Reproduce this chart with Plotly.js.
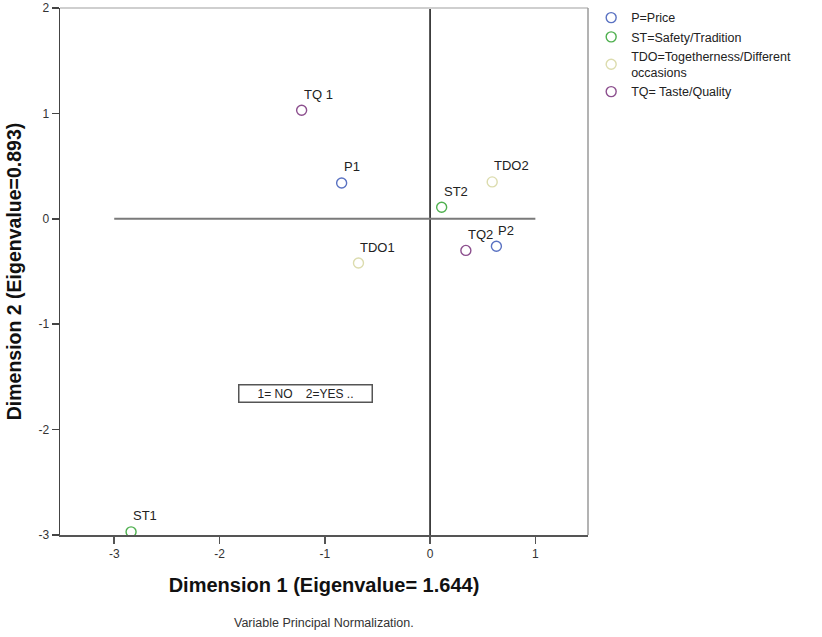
<!DOCTYPE html>
<html>
<head>
<meta charset="utf-8">
<script src="https://cdn.plot.ly/plotly-3.0.1.min.js"></script>
<style>html,body{margin:0;padding:0;background:#fff;}#chart{width:822px;height:637px;}</style>
</head>
<body>
<div id="chart"></div>
<script>
// Data
const groups = ['P=Price', 'ST=Safety/Tradition', 'TDO=Togetherness/Different<br>occasions', 'TQ= Taste/Quality'];
const pLabels = ['P1', 'P2'];
const pX = [-0.84, 0.63];
const pY = [0.34, -0.26];
const stLabels = ['ST1', 'ST2'];
const stX = [-2.84, 0.11];
const stY = [-2.97, 0.11];
const tdoLabels = ['TDO1', 'TDO2'];
const tdoX = [-0.68, 0.59];
const tdoY = [-0.42, 0.35];
const tqLabels = ['TQ 1', 'TQ2'];
const tqX = [-1.22, 0.34];
const tqY = [1.03, -0.30];
const xTicks = [-3, -2, -1, 0, 1];
const yTicks = [-3, -2, -1, 0, 1, 2];
const noteText = '1= NO&nbsp;&nbsp;&nbsp;&nbsp;2=YES ..';

const colors = ['#5a72c2', '#4fb04f', '#dcdcae', '#8c4f8e'];
const FONT = 'Arial, "Liberation Sans", sans-serif';

const series = [
  {name: groups[0], x: pX, y: pY, labels: pLabels},
  {name: groups[1], x: stX, y: stY, labels: stLabels},
  {name: groups[2], x: tdoX, y: tdoY, labels: tdoLabels},
  {name: groups[3], x: tqX, y: tqY, labels: tqLabels}
];

const traces = series.map((s, i) => ({
  type: 'scatter', mode: 'markers', name: s.name, x: s.x, y: s.y,
  marker: {symbol: 'circle-open', size: 10, color: colors[i], line: {width: 1.4, color: colors[i]}},
  hoverinfo: 'skip'
}));

const annotations = [];
series.forEach(s => {
  s.x.forEach((xv, j) => {
    annotations.push({x: xv, y: s.y[j], xref: 'x', yref: 'y', text: s.labels[j], showarrow: false,
      xanchor: 'left', yanchor: 'middle', xshift: 0, yshift: 16,
      font: {family: FONT, size: 13, color: '#222'}});
  });
});
annotations.push({x: -1.18, y: -1.66, xref: 'x', yref: 'y', text: noteText, showarrow: false,
  font: {family: FONT, size: 12, color: '#222'}, bgcolor: '#fff', bordercolor: '#555', borderwidth: 1.5,
  borderpad: 1, width: 130, align: 'center'});
annotations.push({x: 0.5, y: -0.167, xref: 'paper', yref: 'paper', text: 'Variable Principal Normalization.',
  showarrow: false, yanchor: 'middle', font: {family: FONT, size: 12.5, color: '#333'}});

const layout = {
  width: 822, height: 637,
  margin: {l: 60, r: 234, t: 8, b: 102, autoexpand: false},
  paper_bgcolor: '#fff', plot_bgcolor: '#fff',
  font: {family: FONT, size: 12, color: '#333'},
  showlegend: true,
  legend: {x: 1.006, y: 1.0095, xanchor: 'left', yanchor: 'top', bgcolor: 'rgba(0,0,0,0)', borderwidth: 0,
    font: {family: FONT, size: 12.5, color: '#222'}, itemwidth: 30, tracegroupgap: 0},
  xaxis: {range: [-3.515, 1.5], tickvals: xTicks, ticktext: xTicks.map(String), showgrid: false, zeroline: false,
    showline: true, linecolor: '#555', linewidth: 1.5, ticks: 'outside', ticklen: 7, tickwidth: 1.5, tickcolor: '#555',
    tickfont: {family: FONT, size: 12, color: '#333'},
    title: {text: '<b>Dimension 1 (Eigenvalue= 1.644)</b>', font: {family: FONT, size: 20, color: '#111'}, standoff: 18}},
  yaxis: {range: [-3, 2], tickvals: yTicks, ticktext: yTicks.map(String), showgrid: false, zeroline: false,
    showline: true, linecolor: '#444', linewidth: 1.5, ticks: 'outside', ticklen: 7, tickwidth: 1.5, tickcolor: '#444',
    tickfont: {family: FONT, size: 12, color: '#333'},
    title: {text: '<b>Dimension 2 (Eigenvalue=0.893)</b>', font: {family: FONT, size: 19.5, color: '#111'}, standoff: 11}},
  shapes: [
    {type: 'line', xref: 'paper', yref: 'paper', x0: 0, x1: 1, y0: 1, y1: 1, line: {color: '#cfcfcf', width: 2}},
    {type: 'line', xref: 'paper', yref: 'paper', x0: 1, x1: 1, y0: 0, y1: 1, line: {color: '#9a9a9a', width: 1.5}},
    {type: 'line', xref: 'x', yref: 'y', x0: -3, x1: 1, y0: 0, y1: 0, line: {color: '#7a7a7a', width: 2}, layer: 'below'},
    {type: 'line', xref: 'x', yref: 'paper', x0: 0, x1: 0, y0: 0, y1: 1, line: {color: '#111', width: 1.5}, layer: 'below'}
  ],
  annotations: annotations
};

Plotly.newPlot('chart', traces, layout, {displayModeBar: false, staticPlot: true});
</script>
</body>
</html>
